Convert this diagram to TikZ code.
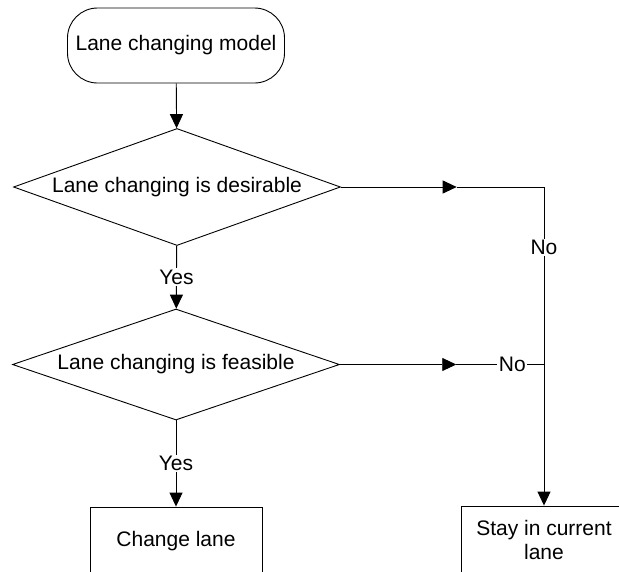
\documentclass[tikz,border=0pt]{standalone}
\usepackage{fontspec}
\setmainfont{Liberation Sans}
\usetikzlibrary{arrows.meta,shapes.geometric,calc}

\begin{document}
\begin{tikzpicture}[x=1pt, y=-1pt, line width=0.9pt,
		>={Triangle[length=14pt,width=13pt]},
		font=\fontsize{21}{24}\selectfont,
		terminal/.style={draw, rounded corners=30pt, minimum width=217pt, minimum height=75pt},
		decision/.style={draw, diamond, aspect=2.8, inner sep=0pt, minimum width=327pt, minimum height=117pt},
		process/.style={draw, align=center, minimum width=166pt, minimum height=68pt},
		answer/.style={fill=white, inner sep=1.5pt}]
	
	% Fix the page to the size of the picture.
	\useasboundingbox (0,0) rectangle (619,571);
	
	% Draw the start and the two questions.
	\node[terminal] (start) at (176,45.5) {Lane changing model};
	\node[decision] (desire) at (177,187) {Lane changing is desirable};
	\node[decision, minimum height=111pt] (feasible) at (176,364.5) {Lane changing is feasible};
	
	% Draw the two outcomes.
	\node[process, minimum width=172pt] (change) at (176,541) {Change lane};
	\node[process] (stay) at (544,540) {Stay in current\\lane};
	
	% Points where the No branches turn or carry their arrow.
	\coordinate (turn1) at (desire.east -| stay.north);
	\coordinate (turn2) at (feasible.east -| stay.north);
	\coordinate (mid1) at ($(desire.east)!0.57!(turn1)$);
	\coordinate (mid2) at ($(feasible.east)!0.57!(turn2)$);
	
	% Draw the Yes branches.
	\draw[->] (start) -- (desire);
	\draw[->] (desire) -- node[answer] {Yes} (feasible);
	\draw[->] (feasible) -- node[answer] {Yes} (change);
	
	% Draw the No branches.
	\draw[->] (desire.east) -- (mid1);
	\draw (mid1) -- (turn1);
	\draw[->] (feasible.east) -- (mid2);
	\draw (mid2) -- node[answer, pos=.64] {No} (turn2);
	\draw (turn1) -- node[answer, pos=.34] {No} (turn2);
	\draw[->] (turn2) -- (stay);
	
\end{tikzpicture}
\end{document}
